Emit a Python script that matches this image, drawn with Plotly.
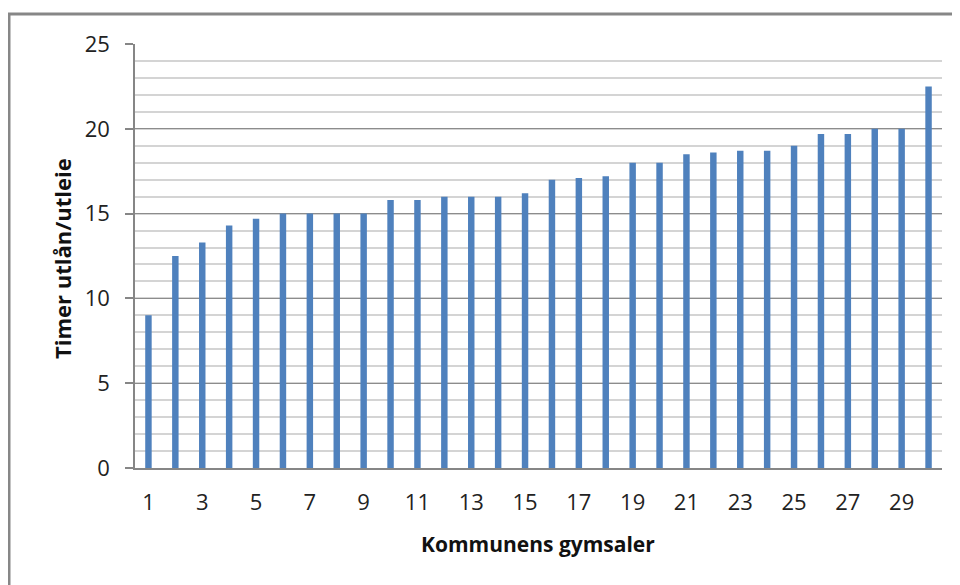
import plotly.graph_objects as go

gyms = list(range(1, 31))
hours = [9.0, 12.5, 13.3, 14.3, 14.7, 15.0, 15.0, 15.0, 15.0, 15.8,
         15.8, 16.0, 16.0, 16.0, 16.2, 17.0, 17.1, 17.2, 18.0, 18.0,
         18.5, 18.6, 18.7, 18.7, 19.0, 19.7, 19.7, 20.0, 20.0, 22.5]
x_tick_vals = list(range(1, 31, 2))
y_tick_vals = [0, 5, 10, 15, 20, 25]

# page has an 8px body margin; work in screen coordinates and convert
OFF = 8
W, H = 960 - OFF, 585 - OFF
PL, PR, PT, PB = 135, 942, 44, 468   # plot area in screen px
L, T = PL - OFF, PT - OFF
R, B = W - (PR - OFF), H - (PB - OFF)
pw, ph = PR - PL, PB - PT

def px(x):
    return (x - PL) / pw

def py(y):
    return (PB - y) / ph

fig = go.Figure(go.Bar(
    x=gyms, y=hours, width=0.24,
    marker=dict(color="#4f81bd", line=dict(width=0)),
))

font_main = "Open Sans, Liberation Sans, Arial, sans-serif"

fig.update_layout(
    width=W, height=H,
    margin=dict(l=L, r=R, t=T, b=B, pad=0),
    paper_bgcolor="white", plot_bgcolor="white",
    showlegend=False,
    font=dict(family=font_main, color="#222222"),
    xaxis=dict(
        range=[0.5, 30.5],
        tickmode="array", tickvals=x_tick_vals, ticktext=[str(v) for v in x_tick_vals],
        showgrid=False, zeroline=False,
        showline=True, linecolor="#868686", linewidth=1.5,
        ticks="", ticklabelstandoff=14,
        tickfont=dict(size=22, color="#222222"),
    ),
    yaxis=dict(
        range=[0, 25],
        tickmode="array", tickvals=y_tick_vals,
        showgrid=True, gridcolor="#8c8c8c", gridwidth=1,
        minor=dict(dtick=1, showgrid=True, gridcolor="#d4d4d4", gridwidth=1.5, ticks=""),
        zeroline=False,
        showline=True, linecolor="#868686", linewidth=1.5,
        ticks="outside", ticklen=8, tickcolor="#868686", tickwidth=1.5,
        ticklabelstandoff=11,
        tickfont=dict(size=22, color="#222222"),
    ),
    annotations=[
        dict(text="<b>Kommunens gymsaler</b>", xref="paper", yref="paper",
             x=px(538), y=py(544), xanchor="center", yanchor="middle",
             showarrow=False, font=dict(size=21, color="#111111")),
        dict(text="<b>Timer utlån/utleie</b>", xref="paper", yref="paper",
             x=px(62), y=py(259), xanchor="center", yanchor="middle",
             textangle=-90, showarrow=False, font=dict(size=22, color="#111111")),
    ],
    shapes=[
        dict(type="line", xref="paper", yref="paper",
             x0=px(9), x1=px(9), y0=py(14), y1=py(600),
             line=dict(color="#878787", width=3)),
        dict(type="line", xref="paper", yref="paper",
             x0=px(7.5), x1=px(962), y0=py(14), y1=py(14),
             line=dict(color="#878787", width=3)),
    ],
)

fig.write_html("out.html")
